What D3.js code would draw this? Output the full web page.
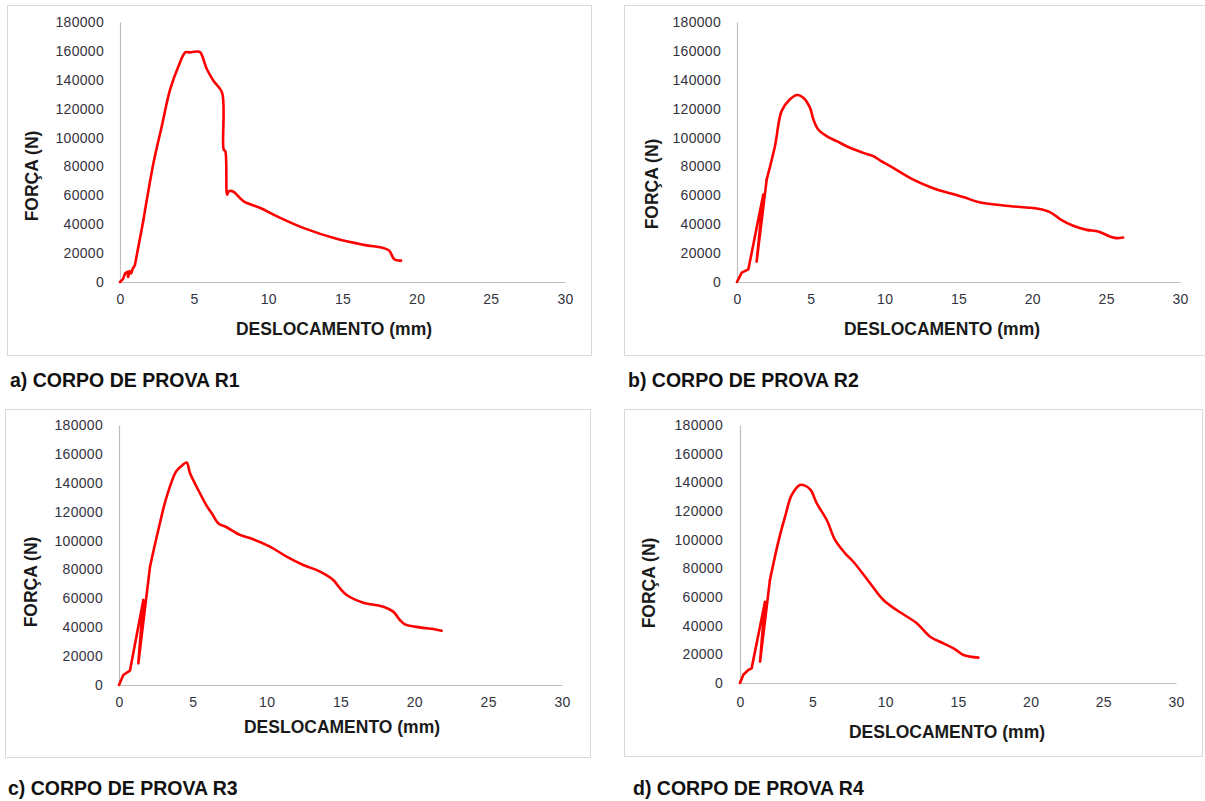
<!DOCTYPE html>
<html>
<head>
<meta charset="utf-8">
<script src="https://cdn.jsdelivr.net/npm/d3@7"></script>
<style>
  html, body { margin: 0; padding: 0; background: #fff; }
  svg { display: block; }
</style>
</head>
<body>
<svg id="chart" width="1205" height="801"></svg>
<script>
// ---------- DATA ----------
const xTicks = [0, 5, 10, 15, 20, 25, 30];
const yTicks = [0, 20000, 40000, 60000, 80000, 100000, 120000, 140000, 160000, 180000];
const xTitle = "DESLOCAMENTO (mm)";
const yTitle = "FORÇA (N)";
const captions = ["a) CORPO DE PROVA R1", "b) CORPO DE PROVA R2", "c) CORPO DE PROVA R3", "d) CORPO DE PROVA R4"];

const r1X = [0, 0.2, 0.35, 0.5, 0.55, 0.65, 0.75, 0.85, 1.0, 1.58, 2.26, 2.82, 3.38, 3.95, 4.4, 4.7, 5.19, 5.41, 5.86, 6.31, 6.88, 6.99, 7.1, 7.22, 7.33, 7.62, 8.34, 9.47, 10.6, 12.4, 14.66, 16.46, 17.8, 18.15, 18.49, 18.83, 18.95];
const r1Y = [0, 2000, 6000, 7000, 3500, 7500, 6000, 9000, 11500, 43000, 82500, 108000, 133400, 149600, 159000, 159000, 159600, 159000, 147300, 139200, 131100, 91700, 90500, 60500, 62700, 62700, 55800, 51200, 45400, 37300, 29700, 25700, 23400, 21700, 15800, 14800, 14800];

const r2X = [0, 0.32, 0.77, 1.78, 1.33, 2.01, 2.57, 3.02, 3.59, 4.08, 4.49, 4.94, 5.17, 5.5, 6.07, 6.75, 7.65, 8.55, 9.23, 9.68, 10.58, 11.94, 13.07, 13.74, 15.32, 16.34, 18.03, 19.61, 20.4, 21.19, 21.87, 22.77, 23.68, 24.46, 25.25, 25.7, 26.15];
const r2Y = [0, 6500, 8800, 60500, 14100, 70900, 94000, 118300, 126500, 129500, 127600, 120700, 112600, 105600, 101000, 97500, 92900, 89400, 87100, 84200, 79000, 70900, 65800, 63400, 58800, 55400, 53000, 51600, 50700, 48400, 43600, 38900, 36100, 35000, 31500, 30400, 30800];

const r3X = [0, 0.29, 0.74, 1.65, 1.31, 2.1, 2.66, 3.23, 3.86, 4.24, 4.58, 4.81, 5.37, 5.94, 6.28, 6.72, 7.29, 8.19, 9.09, 10.22, 11.35, 12.48, 13.61, 14.51, 14.96, 15.42, 16.54, 17.9, 18.57, 19.02, 19.36, 20.38, 21.28, 21.85];
const r3Y = [0, 6900, 9900, 58900, 15000, 81900, 107300, 130400, 147700, 151700, 154000, 146600, 135000, 124000, 118900, 112000, 109200, 103900, 100900, 95800, 88900, 83100, 78500, 72700, 67000, 62300, 57000, 54200, 50800, 45000, 42000, 39900, 38800, 37600];

const r4X = [0, 0.23, 0.57, 0.8, 1.72, 1.38, 2.06, 2.64, 3.1, 3.56, 4.13, 4.47, 4.86, 5.28, 5.97, 6.54, 7.23, 7.8, 8.95, 9.87, 10.78, 12.16, 13.08, 14.0, 14.8, 15.38, 16.4];
const r4Y = [0, 5800, 9100, 10200, 56700, 14900, 71900, 98600, 116000, 131200, 138200, 137700, 134700, 125400, 113700, 99800, 90500, 84600, 69600, 57900, 50900, 41700, 32300, 27700, 23500, 19500, 17700];

const seriesX = [r1X, r2X, r3X, r4X];
const seriesY = [r1Y, r2Y, r3Y, r4Y];

// ---------- LAYOUT ----------
// linearUntil: index up to which the loading branch is drawn straight; smoothing afterwards
const layout = [
  { box: [7, 5, 591, 355],   px: [120, 565],  py: [282, 22],  tickRight: 104, xTickY: 300, yTitleX: 33,  yTitleY: 176, xTitleX: 334, xTitleY: 330, capX: 10,  capY: 387, linearUntil: 9 },
  { box: [624, 5, 1207, 355], px: [737, 1180], py: [282, 22],  tickRight: 721, xTickY: 300, yTitleX: 653, yTitleY: 184, xTitleX: 942, xTitleY: 330, capX: 628, capY: 387, linearUntil: 5 },
  { box: [5, 409, 590, 757], px: [119, 562],  py: [685, 425], tickRight: 103, xTickY: 703, yTitleX: 32,  yTitleY: 582, xTitleX: 342, xTitleY: 728, capX: 8,   capY: 795, linearUntil: 5 },
  { box: [624, 409, 1202, 756], px: [740, 1176], py: [683, 425], tickRight: 723, xTickY: 703, yTitleX: 650, yTitleY: 583, xTitleX: 947, xTitleY: 733, capX: 633, capY: 795, linearUntil: 6 }
];

const svg = d3.select("#chart");
const FONT = "'Liberation Sans', Arial, sans-serif";

layout.forEach((L, i) => {
  const g = svg.append("g");
  // panel border
  g.append("rect")
    .attr("x", L.box[0] + 0.5).attr("y", L.box[1] + 0.5)
    .attr("width", L.box[2] - L.box[0]).attr("height", L.box[3] - L.box[1])
    .attr("fill", "#fff").attr("stroke", "#d9d9d9").attr("stroke-width", 1);

  const x = d3.scaleLinear().domain([0, 30]).range(L.px);
  const y = d3.scaleLinear().domain([0, 180000]).range(L.py);

  // axes
  const xAxis = d3.axisBottom(x).tickValues(xTicks).tickSize(0).tickPadding(10).tickFormat(d3.format("d"));
  const yAxis = d3.axisLeft(y).tickValues(yTicks).tickSize(0).tickPadding(L.px[0] - L.tickRight).tickFormat(d3.format("d"));

  const gx = g.append("g").attr("transform", `translate(0,${L.py[0]})`).call(xAxis);
  const gy = g.append("g").attr("transform", `translate(${L.px[0]},0)`).call(yAxis);
  [gx, gy].forEach(a => {
    a.select(".domain").attr("stroke", "#bfbfbf").attr("stroke-width", 1.2);
    a.selectAll("text").attr("font-family", FONT).attr("font-size", "14px")
      .attr("fill", "#333340").style("letter-spacing", "0.3px");
  });
  gx.selectAll("text").attr("y", null).attr("dy", null)
    .attr("y", L.xTickY - L.py[0]).attr("dominant-baseline", "middle");

  // titles
  g.append("text")
    .attr("x", L.xTitleX).attr("y", L.xTitleY)
    .attr("text-anchor", "middle").attr("dominant-baseline", "middle")
    .attr("font-family", FONT).attr("font-weight", "bold").attr("font-size", "17.5px")
    .attr("fill", "#1a1a1a").text(xTitle);
  g.append("text")
    .attr("transform", `translate(${L.yTitleX},${L.yTitleY}) rotate(-90)`)
    .attr("text-anchor", "middle").attr("dominant-baseline", "middle")
    .attr("font-family", FONT).attr("font-weight", "bold").attr("font-size", "17.5px")
    .attr("fill", "#1a1a1a").text(yTitle);

  // caption
  svg.append("text")
    .attr("x", L.capX).attr("y", L.capY)
    .attr("font-family", FONT).attr("font-weight", "bold").attr("font-size", "19.5px")
    .attr("fill", "#111").text(captions[i]);

  // data line: straight loading branch, smoothed remainder
  const pts = seriesX[i].map((v, k) => [v, seriesY[i][k]]);
  const lin = d3.line().x(d => x(d[0])).y(d => y(d[1])).curve(d3.curveLinear);
  const smo = d3.line().x(d => x(d[0])).y(d => y(d[1])).curve(d3.curveCatmullRom.alpha(0.5));
  const partA = pts.slice(0, L.linearUntil + 1);
  const partB = pts.slice(L.linearUntil);
  [[partA, lin], [partB, smo]].forEach(([data, gen]) => {
    g.append("path").datum(data)
      .attr("d", gen)
      .attr("fill", "none").attr("stroke", "#ff0000")
      .attr("stroke-width", 2.6).attr("stroke-linejoin", "round").attr("stroke-linecap", "round");
  });
});
</script>
</body>
</html>
